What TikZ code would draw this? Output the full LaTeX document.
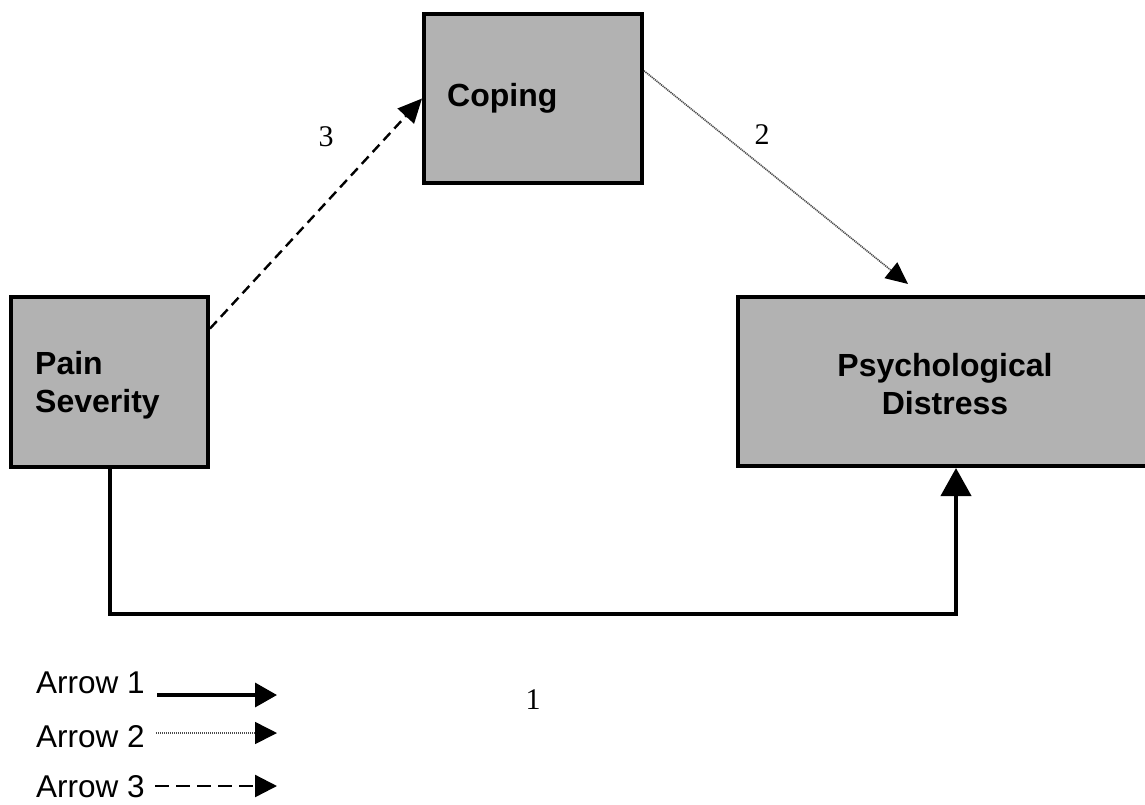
\documentclass[tikz,border=0pt]{standalone}
\usepackage{fontspec}
\setmainfont{Liberation Sans}
\newfontfamily\numfont{Liberation Serif}
\usetikzlibrary{arrows.meta,calc}
\definecolor{boxgray}{RGB}{178,178,178}
\begin{document}
\begin{tikzpicture}[x=1pt,y=-1pt,
  varbox/.style={draw=black,line width=4pt,fill=boxgray,inner sep=0pt},
  boxtext/.style={font=\fontsize{32}{38}\selectfont\bfseries,inner sep=0pt},
  numlabel/.style={font=\numfont\fontsize{30}{30}\selectfont,inner sep=0pt},
  legtext/.style={font=\fontsize{31.5}{32}\selectfont,inner sep=0pt,anchor=base west},
  solidarrow/.style={line width=4pt,-{Triangle[length=28pt,width=30pt]}},
  dotarrow/.style={line width=1.6pt,draw=black!70,dash pattern=on 1.2pt off 0.8pt,-{Triangle[length=22pt,width=20pt,color=black]}},
  dasharrow/.style={line width=2.4pt,dash pattern=on 10pt off 6pt,-{Triangle[length=24pt,width=22pt]}},
  legsolid/.style={line width=3.5pt,-{Triangle[length=22pt,width=24pt]}},
  legdot/.style={line width=1.6pt,draw=black!70,dash pattern=on 1.2pt off 0.8pt,-{Triangle[length=22pt,width=22pt,color=black]}},
  legdash/.style={line width=2.4pt,dash pattern=on 14pt off 7pt,-{Triangle[length=22pt,width=22pt]}}]
\useasboundingbox (0,0) rectangle (1145,804);
\clip (0,0) rectangle (1145,804);
\fill[white] (0,0) rectangle (1145,804);

% boxes
\node[varbox,minimum width=218pt,minimum height=169pt] (coping) at (533,98.5) {};
\node[varbox,minimum width=197pt,minimum height=170pt] (pain) at (109.5,382) {};
\node[varbox,minimum width=414pt,minimum height=169pt] (psych) at (945,381.5) {};
\node[boxtext,anchor=west] (copingtext) at (447,98) {Coping};
\node[boxtext,anchor=west,align=left] (paintext) at (35,385) {Pain\\Severity};
\node[boxtext,align=center] (psychtext) at (945,384) {Psychological\\Distress};

% connectors
\coordinate (tip2) at (908,284);
\draw[dasharrow] (pain.28) -- (coping.west);
\draw[dotarrow] (coping.14) -- (tip2);
\draw[solidarrow] (pain.south) -- ++(0,145) -| ([xshift=11pt]psych.south);

% labels
\node[numlabel] (n3) at (326,137) {3};
\node[numlabel] (n2) at (762,135) {2};
\node[numlabel] (n1) at (533,700) {1};

% legend
\node[legtext] (l1) at (36,693) {Arrow 1};
\node[legtext] (l2) at (36,747) {Arrow 2};
\node[legtext] (l3) at (36,797) {Arrow 3};
\coordinate (e1) at (277,695);
\coordinate (e2) at (277,733);
\coordinate (e3) at (277,786);
\draw[legsolid] (157,695) -- (e1);
\draw[legdot] (156,733) -- (e2);
\draw[legdash] (155,786) -- (e3);
\end{tikzpicture}
\end{document}
